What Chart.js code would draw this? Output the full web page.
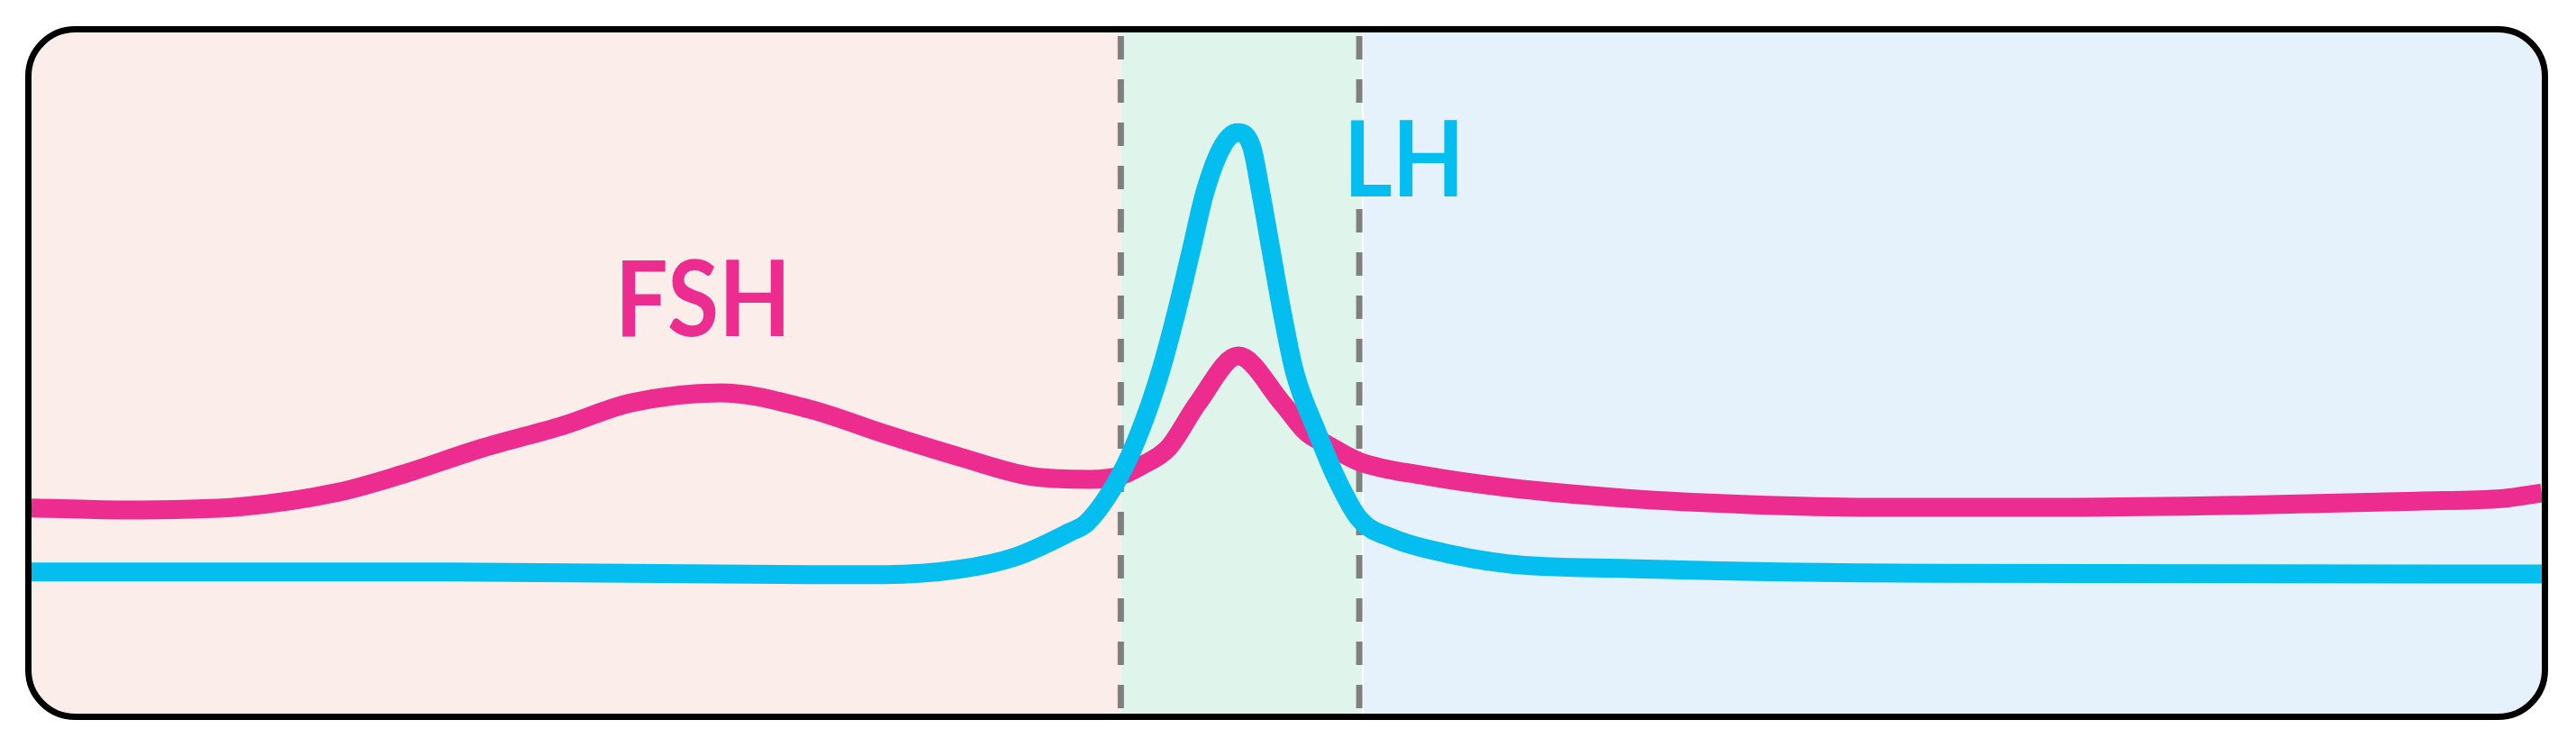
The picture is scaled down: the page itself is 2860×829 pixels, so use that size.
<!DOCTYPE html>
<html>
<head>
<meta charset="utf-8">
<script src="https://cdn.jsdelivr.net/npm/chart.js@4/dist/chart.umd.min.js"></script>
<style>
  html, body { margin: 0; padding: 0; background: #ffffff; }
</style>
</head>
<body>
<canvas id="hormones" width="2860" height="829"></canvas>
<script>
// cycle days (x) and relative hormone level (y)
const fshDays = [0, 0.99, 2.34, 3.42, 4.13, 5.03, 5.93, 6.68, 7.68, 8.68, 9.51, 10.35, 11.17, 11.81, 12.14, 12.38, 12.68, 13.01, 13.46, 13.95, 14.22, 14.45, 14.81, 15.56, 16.46, 17.8, 19.15, 20.5, 22.76, 24.65, 26.59, 27.57, 28];
const fshLevels = [30.2, 29.9, 30.4, 32.5, 35.1, 39.0, 42.3, 45.6, 47.1, 44.7, 41.1, 37.7, 34.8, 34.4, 34.9, 36.4, 39.0, 45.6, 52.5, 45.6, 41.3, 39.5, 37.0, 34.9, 33.2, 31.6, 30.7, 30.3, 30.3, 30.6, 31.2, 31.6, 32.4];

const lhDays = [0, 4.67, 8.69, 9.51, 10.35, 10.97, 11.59, 11.77, 12.13, 12.36, 12.59, 12.77, 12.93, 13.09, 13.28, 13.45, 13.61, 13.71, 13.83, 13.95, 14.09, 14.34, 14.55, 14.81, 15.19, 15.56, 16.46, 17.8, 21.25, 28];
const lhLevels = [20.8, 20.8, 20.4, 20.4, 21.2, 23.0, 26.7, 28.0, 34.7, 41.3, 50.1, 58.9, 67.7, 76.6, 83.2, 85.3, 83.2, 76.6, 67.7, 58.9, 50.1, 41.3, 34.7, 28.6, 25.7, 24.2, 22.0, 21.3, 20.6, 20.5];

// phase borders (day) and series labels
const phaseBorders = [12.15, 14.81];
const seriesLabels = ["FSH", "LH"];
const labelDays = [7.49, 15.31];
const labelLevels = [55.4, 75.9];

const pink = "#EC2C8E";
const cyan = "#05BEF0";

function toPoints(xs, ys) {
  return xs.map((x, i) => ({ x: x, y: ys[i] }));
}

function framePath(ctx, x, y, w, h, r) {
  ctx.beginPath();
  ctx.moveTo(x + r, y);
  ctx.lineTo(x + w - r, y);
  ctx.arcTo(x + w, y, x + w, y + r, r);
  ctx.lineTo(x + w, y + h - r);
  ctx.arcTo(x + w, y + h, x + w - r, y + h, r);
  ctx.lineTo(x + r, y + h);
  ctx.arcTo(x, y + h, x, y + h - r, r);
  ctx.lineTo(x, y + r);
  ctx.arcTo(x, y, x + r, y, r);
  ctx.closePath();
}

// backgrounds, dashed phase lines, labels and the rounded frame
const phasePlugin = {
  id: "phases",
  beforeDatasetsDraw(chart) {
    const ctx = chart.ctx;
    const a = chart.chartArea;
    const xs = chart.scales.x;
    const x1 = xs.getPixelForValue(phaseBorders[0]);
    const x2 = xs.getPixelForValue(phaseBorders[1]);
    ctx.save();
    framePath(ctx, a.left, a.top, a.right - a.left, a.bottom - a.top, 48);
    ctx.clip();
    ctx.fillStyle = "#FBEDE9";
    ctx.fillRect(a.left, a.top, x1 - a.left, a.bottom - a.top);
    ctx.fillStyle = "#DFF4EA";
    ctx.fillRect(x1, a.top, x2 + 3 - x1, a.bottom - a.top);
    ctx.fillStyle = "#E5F1FB";
    ctx.fillRect(x2 + 5, a.top, a.right - x2 - 5, a.bottom - a.top);
    ctx.restore();

    ctx.save();
    ctx.strokeStyle = "#808080";
    ctx.lineWidth = 7;
    ctx.setLineDash([26, 22]);
    [x1, x2].forEach(function (x) {
      ctx.beginPath();
      ctx.moveTo(x, a.top + 4);
      ctx.lineTo(x, a.bottom);
      ctx.stroke();
    });
    ctx.restore();
  },
  afterDatasetsDraw(chart) {
    const ctx = chart.ctx;
    const a = chart.chartArea;
    const colors = [pink, cyan];
    seriesLabels.forEach(function (t, i) {
      ctx.save();
      ctx.translate(chart.scales.x.getPixelForValue(labelDays[i]), chart.scales.y.getPixelForValue(labelLevels[i]));
      ctx.scale(0.89, 1);
      ctx.font = "bold 117px Lato";
      ctx.textAlign = "center";
      ctx.textBaseline = "alphabetic";
      ctx.fillStyle = colors[i];
      ctx.fillText(t, 0, 0);
      ctx.restore();
    });

    ctx.save();
    ctx.strokeStyle = "#000000";
    ctx.lineWidth = 7;
    framePath(ctx, a.left - 3.5, a.top - 3.5, a.right - a.left + 7, a.bottom - a.top + 7, 52);
    ctx.stroke();
    ctx.restore();
  },
};

new Chart(document.getElementById("hormones"), {
  type: "line",
  data: {
    datasets: [
      {
        label: "FSH",
        data: toPoints(fshDays, fshLevels),
        borderColor: pink,
        borderWidth: 21,
        pointRadius: 0,
        cubicInterpolationMode: "monotone",
        fill: false,
        order: 1,
      },
      {
        label: "LH",
        data: toPoints(lhDays, lhLevels),
        borderColor: cyan,
        borderWidth: 21,
        pointRadius: 0,
        cubicInterpolationMode: "monotone",
        fill: false,
        order: 0,
      },
    ],
  },
  options: {
    responsive: false,
    animation: false,
    devicePixelRatio: 1,
    layout: { padding: { left: 35, right: 38, top: 36, bottom: 37 } },
    plugins: { legend: { display: false }, tooltip: { enabled: false } },
    scales: {
      x: { type: "linear", min: 0, max: 28, display: false },
      y: { min: 0, max: 100, display: false },
    },
  },
  plugins: [phasePlugin],
});
</script>
</body>
</html>
